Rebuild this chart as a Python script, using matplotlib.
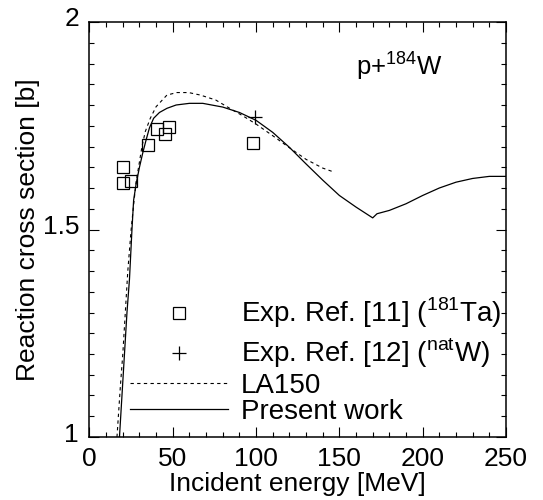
import numpy as np
import matplotlib
matplotlib.use('Agg')
import matplotlib.pyplot as plt
from matplotlib.ticker import MultipleLocator
from matplotlib.transforms import ScaledTranslation

plt.rcParams['font.family'] = ['Liberation Sans', 'DejaVu Sans']
plt.rcParams['mathtext.fontset'] = 'custom'
plt.rcParams['mathtext.rm'] = 'Liberation Sans'

# Exp. Ref. [11] (181Ta) - open squares
ta_e = [19.9, 19.9, 24.9, 35.1, 40.5, 45.1, 47.7, 98.2]
ta_xs = [1.650, 1.611, 1.618, 1.704, 1.741, 1.730, 1.748, 1.708]

# Exp. Ref. [12] (natW) - plus
w_e = [99.4]
w_xs = [1.770]

# LA150 evaluation (dashed)
la_e = [16.5, 18.5, 20.0, 21.5, 23.0, 25.0, 26.5, 28.0, 29.5, 31.5, 33.5,
        36.5, 40.0, 46.5, 52.5, 59.5, 66.5, 75.8, 85.0, 92.0, 100.0, 110.0,
        120.0, 130.0, 140.0, 147.0]
la_xs = [1.0, 1.12, 1.2, 1.3, 1.4, 1.5, 1.56, 1.615, 1.651, 1.70, 1.736,
         1.768, 1.796, 1.824, 1.830, 1.830, 1.824, 1.812, 1.790, 1.774,
         1.754, 1.726, 1.697, 1.669, 1.648, 1.638]

# Present work (solid)
pw_e = [18.0, 19.5, 21.0, 22.5, 24.0, 25.5, 26.5, 28.0, 30.0, 32.0, 34.0,
        36.0, 38.5, 42.0, 46.5, 52.0, 60.0, 68.0, 80.0, 90.0, 100.0, 110.0,
        120.0, 130.0, 140.0, 150.0, 160.0, 170.0, 172.6, 180.0, 190.0,
        200.0, 210.0, 220.0, 230.0, 240.0, 250.0]
pw_xs = [1.0, 1.1, 1.2, 1.3, 1.38, 1.5, 1.571, 1.61, 1.65, 1.685, 1.716,
         1.745, 1.768, 1.782, 1.792, 1.800, 1.804, 1.804, 1.795, 1.782,
         1.763, 1.734, 1.698, 1.658, 1.619, 1.582, 1.554, 1.528, 1.538,
         1.546, 1.562, 1.582, 1.600, 1.614, 1.623, 1.628, 1.628]

fig = plt.figure(figsize=(5.43, 5.0), dpi=100)
ax = fig.add_axes([0.1648, 0.126, 0.767, 0.830])

sq, = ax.plot(ta_e, ta_xs, 's', mfc='none', mec='black', ms=8.4, mew=0.9,
              label=r'Exp. Ref. [11] ($^{181}$Ta)')
pl, = ax.plot(w_e, w_xs, '+', color='black', ms=10, mew=0.9,
              label=r'Exp. Ref. [12] ($^{\mathrm{nat}}$W)')
la, = ax.plot(la_e, la_xs, color='black', lw=0.8, ls=(0, (3, 3)), label='LA150')
pw, = ax.plot(pw_e, pw_xs, color='black', lw=0.9, label='Present work')

ax.set_xlim(0, 250)
ax.set_ylim(1, 2)
ax.xaxis.set_major_locator(MultipleLocator(50))
ax.xaxis.set_minor_locator(MultipleLocator(10))
ax.set_yticks([1, 1.5, 2])
ax.set_yticklabels(['1', '1.5', '2'])
ax.yaxis.set_minor_locator(MultipleLocator(0.05))
ax.tick_params(which='both', direction='in', top=True, right=True,
               labelsize=19, width=0.8)
ax.tick_params(axis='x', which='major', pad=7)
ax.tick_params(axis='y', which='major', pad=7.5)
ax.tick_params(which='major', length=7.2)
ax.tick_params(which='minor', length=3.6)
for s in ax.spines.values():
    s.set_linewidth(1.1)
# y labels sit a little above their ticks in the original
for lab in ax.get_yticklabels():
    lab.set_transform(lab.get_transform() +
                      ScaledTranslation(0, 3.6 / 72, fig.dpi_scale_trans))

ax.set_xlabel('Incident energy [MeV]', fontsize=19, labelpad=1)
ax.set_ylabel('Reaction cross section [b]', fontsize=19, labelpad=2)

ax.text(0.64, 0.873, r'p+$^{184}$W', transform=ax.transAxes, fontsize=18.5)

leg1 = ax.legend(handles=[sq, pl], loc='upper left',
                 bbox_to_anchor=(0.097, 0.34), frameon=False, fontsize=20,
                 handlelength=3.53, handletextpad=0.47, labelspacing=0.2,
                 borderpad=0, borderaxespad=0)
ax.add_artist(leg1)
ax.legend(handles=[la, pw], loc='upper left', bbox_to_anchor=(0.097, 0.155),
          frameon=False, fontsize=20, handlelength=3.53, handletextpad=0.47,
          labelspacing=0.0, borderpad=0, borderaxespad=0)

fig.savefig('out.png', dpi=100)
